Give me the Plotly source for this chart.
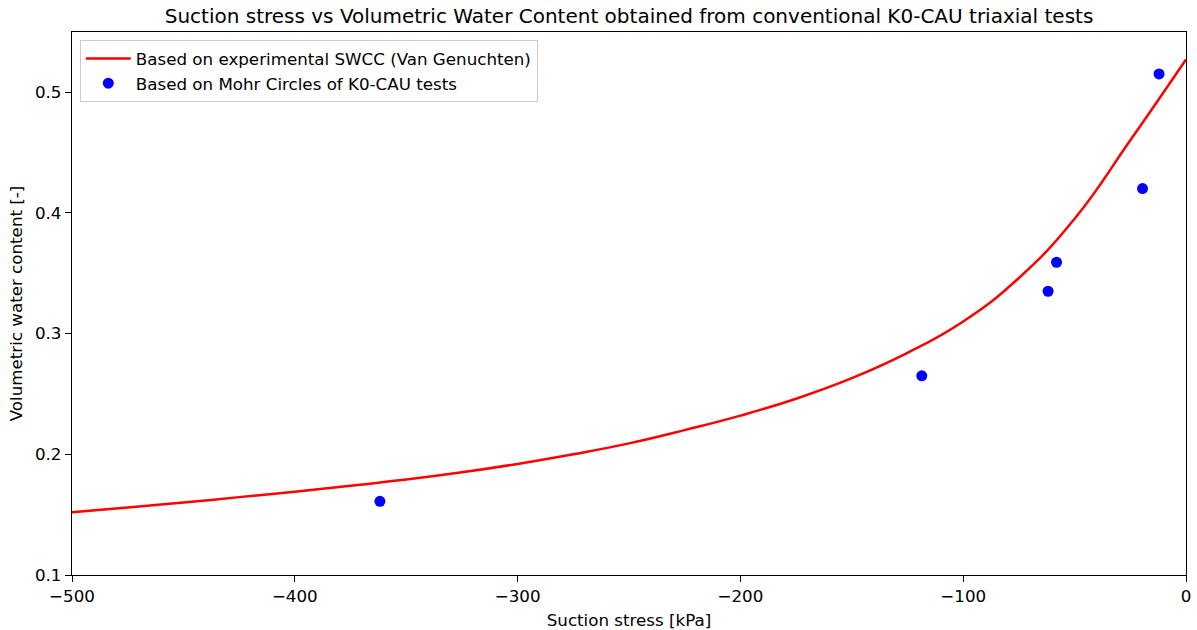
import plotly.graph_objects as go

# Suction stress curve derived from the experimental SWCC (Van Genuchten fit)
swcc_suction = [-500, -475, -450, -425, -400, -375, -350, -325, -300, -275, -250,
                -225, -200, -175, -150, -125, -100, -75, -50, -25, 0]
swcc_theta = [0.152, 0.156, 0.160, 0.1645, 0.169, 0.174, 0.179, 0.185, 0.192, 0.200, 0.209,
              0.220, 0.232, 0.246, 0.263, 0.284, 0.310, 0.346, 0.395, 0.460, 0.527]

# Suction stress from Mohr circles of K0-CAU tests
mohr_suction = [-361.8, -118.6, -61.9, -58.1, -19.5, -12.1]
mohr_theta = [0.161, 0.265, 0.335, 0.359, 0.420, 0.515]

x_ticks = [-500, -400, -300, -200, -100, 0]
x_ticklabels = ["\u2212500", "\u2212400", "\u2212300", "\u2212200", "\u2212100", "0"]
y_ticks = [0.1, 0.2, 0.3, 0.4, 0.5]
y_ticklabels = ["0.1", "0.2", "0.3", "0.4", "0.5"]

FONT = "DejaVu Sans"
FS = 16.7

fig = go.Figure()
fig.add_trace(go.Scatter(
    x=swcc_suction, y=swcc_theta, mode="lines",
    line=dict(color="#ff0000", width=2.5, shape="spline", smoothing=1.3),
    name="Based on experimental SWCC (Van Genuchten)",
))
fig.add_trace(go.Scatter(
    x=mohr_suction, y=mohr_theta, mode="markers",
    marker=dict(color="#0000ff", size=11),
    name="Based on Mohr Circles of K0-CAU tests",
))

axis_common = dict(
    showgrid=False, zeroline=False, showline=True, linecolor="black", linewidth=1.3,
    mirror=True, ticks="outside", ticklen=6, tickwidth=1.3, tickcolor="black",
    tickfont=dict(family=FONT, size=FS, color="black"), automargin=False,
)

fig.update_layout(
    width=1197, height=630,
    margin=dict(l=72, r=11, t=32, b=55),
    paper_bgcolor="white", plot_bgcolor="white",
    font=dict(family=FONT, color="black"),
    title=dict(
        text="Suction stress vs Volumetric Water Content obtained from conventional K0-CAU triaxial tests",
        x=0.5, xref="paper", xanchor="center", y=0.975, yanchor="middle",
        font=dict(family=FONT, size=20, color="black"),
    ),
    xaxis=dict(
        range=[-500, 0], tickvals=x_ticks, ticktext=x_ticklabels,
        title=dict(text="Suction stress [kPa]", font=dict(family=FONT, size=FS), standoff=9),
        **axis_common,
    ),
    yaxis=dict(
        range=[0.1, 0.5497], tickvals=y_ticks, ticktext=y_ticklabels,
        title=dict(text="Volumetric water content [-]", font=dict(family=FONT, size=FS), standoff=8),
        **axis_common,
    ),
    legend=dict(
        x=0.007, y=0.985, xanchor="left", yanchor="top",
        bgcolor="rgba(255,255,255,0.8)", bordercolor="#cccccc", borderwidth=1,
        font=dict(family=FONT, size=FS, color="black"),
        tracegroupgap=0, itemwidth=45,
    ),
    showlegend=True,
)

fig.write_html("out.html")
